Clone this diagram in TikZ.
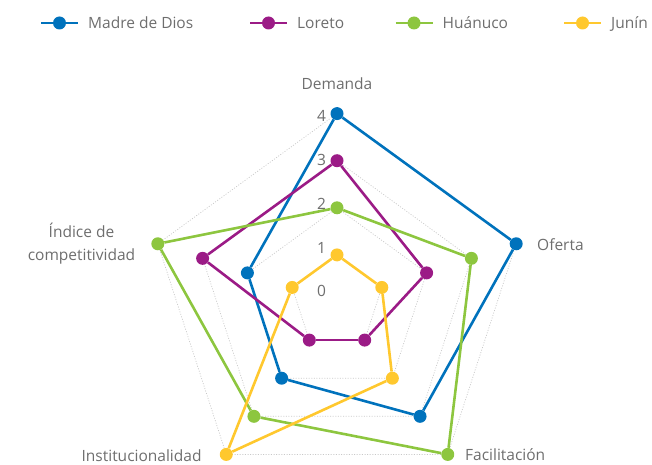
\documentclass[tikz,border=0pt]{standalone}
\usepackage{fontspec}
\setmainfont{Open Sans}
\usetikzlibrary{calc}
\definecolor{cmd}{HTML}{0072BC}
\definecolor{clo}{HTML}{9B1B86}
\definecolor{chu}{HTML}{8DC63F}
\definecolor{cju}{HTML}{FFC82E}
\definecolor{txt}{HTML}{6E6E6E}
\definecolor{grd}{HTML}{C8C8C8}
\newcommand\radarseries[7]{%
  \node[dot=#2] (#1a) at ($(c)+(90:{#3*47.1})$) {};
  \node[dot=#2] (#1b) at ($(c)+(18:{#4*47.1})$) {};
  \node[dot=#2] (#1c) at ($(c)+(-54:{#5*47.1})$) {};
  \node[dot=#2] (#1d) at ($(c)+(-126:{#6*47.1})$) {};
  \node[dot=#2] (#1e) at ($(c)+(162:{#7*47.1})$) {};
  \draw[ser=#2] (#1a) -- (#1b);
  \draw[ser=#2] (#1b) -- (#1c);
  \draw[ser=#2] (#1c) -- (#1d);
  \draw[ser=#2] (#1d) -- (#1e);
  \draw[ser=#2] (#1e) -- (#1a);
}
\newcommand\legenditem[4]{% name, color, x of marker, text
  \coordinate (#1l) at (#3-18.5,441);
  \coordinate (#1r) at (#3+18.5,441);
  \draw[ser=#2] (#1l) -- (#1r);
  \node[dot=#2] (#1m) at (#3,441) {};
  \node[lbl,anchor=base west] (#1t) at (#3+28.5,435.7) {#4};
}
\begin{document}
\begin{tikzpicture}[x=1pt,y=1pt,
  lbl/.style={text=txt,font=\fontsize{15.5}{18}\selectfont,inner sep=0pt},
  dot/.style={circle,fill=#1,draw=none,inner sep=0pt,minimum size=13pt},
  ser/.style={draw=#1,line width=2.6pt},
  gridl/.style={draw=grd,line width=0.7pt,dash pattern=on 1pt off 1.6pt}]
\useasboundingbox (0,0) rectangle (652,464);
\coordinate (c) at (337,162);
% grid
\foreach \k in {1,...,4}{
  \draw[gridl] ($(c)+(90:{\k*47.1})$) -- ($(c)+(18:{\k*47.1})$) -- ($(c)+(-54:{\k*47.1})$) -- ($(c)+(-126:{\k*47.1})$) -- ($(c)+(162:{\k*47.1})$) -- cycle;
}
% scale numbers
\node[lbl,anchor=base] (n4) at (321.5,342.3) {4};
\node[lbl,anchor=base] (n3) at (321.5,298.5) {3};
\node[lbl,anchor=base] (n2) at (321.5,254.5) {2};
\node[lbl,anchor=base] (n1) at (321.5,211) {1};
\node[lbl,anchor=base] (n0) at (321.5,167.3) {0};
% axis labels
\node[lbl,anchor=base] (ldem) at (337,374) {Demanda};
\node[lbl,anchor=base west] (lofe) at (537,214) {Oferta};
\node[lbl,anchor=base west] (lfac) at (465,3.3) {Facilitación};
\node[lbl,anchor=base east] (lins) at (201.7,2.3) {Institucionalidad};
\node[lbl,anchor=base] (lind1) at (81.5,226.3) {Índice de};
\node[lbl,anchor=base] (lind2) at (81.5,203.3) {competitividad};
% series
\radarseries{m}{cmd}{4}{4}{3}{2}{2}
\radarseries{l}{clo}{3}{2}{1}{1}{3}
\radarseries{h}{chu}{2}{3}{4}{3}{4}
\radarseries{j}{cju}{1}{1}{2}{4}{1}
% legend
\legenditem{m}{cmd}{59.5}{Madre de Dios}
\legenditem{l}{clo}{268.5}{Loreto}
\legenditem{h}{chu}{414}{Huánuco}
\legenditem{j}{cju}{582.5}{Junín}
\end{tikzpicture}
\end{document}
